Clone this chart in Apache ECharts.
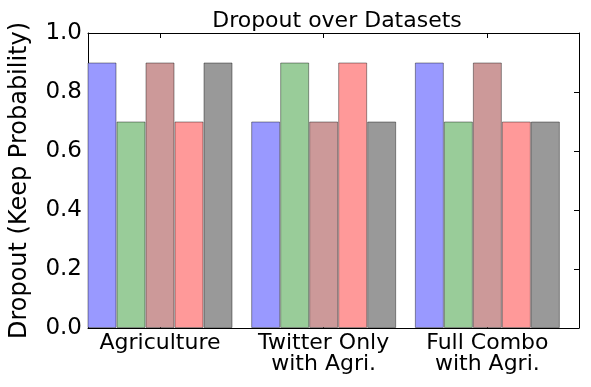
<!DOCTYPE html>
<html>
<head>
<meta charset="utf-8">
<script src="https://cdn.jsdelivr.net/npm/echarts@6/dist/echarts.min.js"></script>
<style>
  html, body { margin: 0; padding: 0; background: #fff; }
  #chart { width: 591px; height: 387px; }
</style>
</head>
<body>
<div id="chart"></div>
<script>
// data
const categories = ['Agriculture', 'Twitter Only\nwith Agri.', 'Full Combo\nwith Agri.'];
const seriesColors = ['#9999ff', '#99cc99', '#cc9999', '#ff9999', '#999999'];
const bar1 = [0.9, 0.7, 0.9];
const bar2 = [0.7, 0.9, 0.7];
const bar3 = [0.9, 0.7, 0.9];
const bar4 = [0.7, 0.9, 0.7];
const bar5 = [0.9, 0.7, 0.7];

const font = 'DejaVu Sans';
const groupShift = 0.44; // groups sit left in each slot, like matplotlib's bar offsets
const groupIdx = categories.map((c, i) => i);

let myChart = echarts.init(document.getElementById('chart'));

function xAxisDef(showLabels) {
  return {
    type: 'value',
    min: -groupShift,
    max: categories.length - groupShift,
    position: showLabels ? 'bottom' : 'top',
    axisLine: { show: true, onZero: false, lineStyle: { color: '#000', width: 1 } },
    axisTick: { show: true, inside: true, length: 5, customValues: groupIdx, lineStyle: { color: '#000' } },
    axisLabel: {
      show: showLabels,
      customValues: groupIdx,
      margin: 5,
      fontFamily: font,
      fontSize: 22,
      lineHeight: 21,
      color: '#000',
      formatter: (v) => categories[Math.round(v)]
    },
    splitLine: { show: false }
  };
}

function yAxisDef(showLabels) {
  return {
    type: 'value',
    min: 0,
    max: 1,
    interval: 0.2,
    position: showLabels ? 'left' : 'right',
    name: showLabels ? 'Dropout (Keep Probability)' : '',
    nameLocation: 'middle',
    nameGap: 56,
    nameTextStyle: { fontFamily: font, fontSize: 24, color: '#000' },
    axisLine: { show: true, onZero: false, lineStyle: { color: '#000', width: 1 } },
    axisTick: { show: true, inside: true, length: 5, lineStyle: { color: '#000' } },
    axisLabel: {
      show: showLabels,
      fontFamily: font,
      fontSize: 23,
      color: '#000',
      margin: 6,
      formatter: (v) => v.toFixed(1)
    },
    splitLine: { show: false }
  };
}

const allBars = [bar1, bar2, bar3, bar4, bar5];
let series = allBars.map((vals, k) => ({
  type: 'bar',
  xAxisIndex: 0,
  yAxisIndex: 0,
  barWidth: 29,
  barGap: '0%',
  itemStyle: {
    color: seriesColors[k],
    borderColor: 'rgba(0,0,0,0.4)',
    borderWidth: 1
  },
  data: vals.map((v, i) => [groupIdx[i], v])
}));

let option = {
  animation: false,
  title: {
    text: 'Dropout over Datasets',
    left: 332,
    top: 5,
    textAlign: 'center',
    textStyle: { fontFamily: font, fontSize: 22, fontWeight: 'normal', color: '#000' }
  },
  grid: { left: 86, right: 12, top: 33, bottom: 59, containLabel: false },
  xAxis: [xAxisDef(true), xAxisDef(false)],
  yAxis: [yAxisDef(true), yAxisDef(false)],
  series: series
};
myChart.setOption(option);
</script>
</body>
</html>
